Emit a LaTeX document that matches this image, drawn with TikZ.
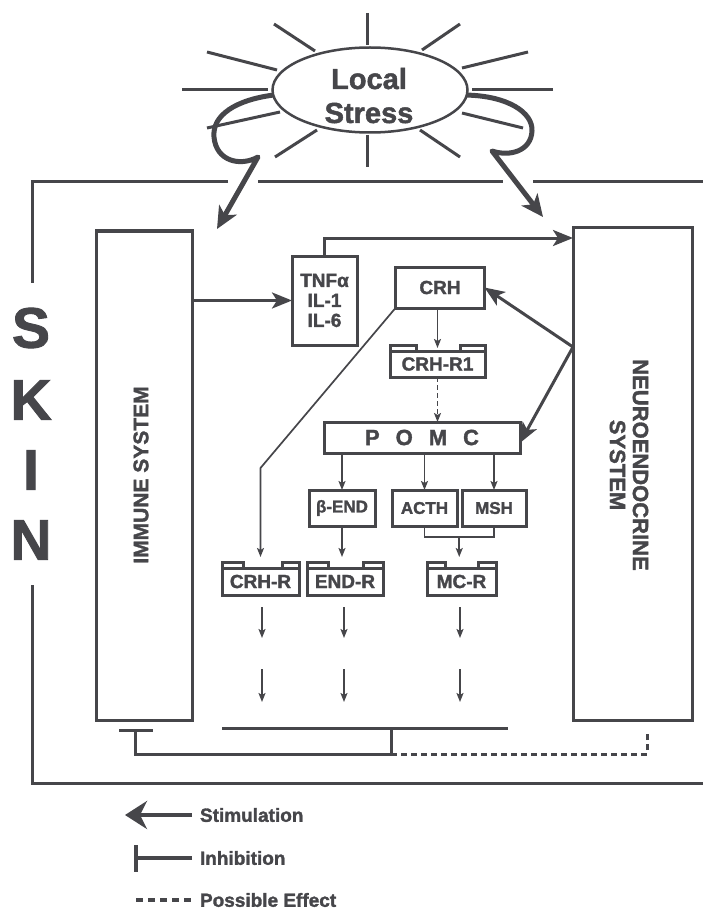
\documentclass[tikz,border=0pt]{standalone}
\usepackage{fontspec}
\setmainfont{Liberation Sans}[BoldFeatures={FakeBold=1.6}]
\usetikzlibrary{arrows.meta,shapes.geometric,calc}
\definecolor{ink}{RGB}{70,70,74}
\begin{document}
\begin{tikzpicture}[x=1pt,y=-1pt,line join=miter,
  every node/.style={text=ink,inner sep=0pt,outer sep=0pt},
  frame/.style={draw=ink,line width=3pt},
  ray/.style={draw=ink,line width=3pt},
  bigarrow/.style={draw=ink,line width=3pt,-{Stealth[length=20pt,width=16pt,inset=5pt]}},
  curlarrow/.style={draw=ink,line width=5pt,line join=round,-{Stealth[length=22pt,width=20pt,inset=6pt]}},
  thinarrow/.style={draw=ink,line width=1.7pt,-{Stealth[length=9pt,width=7pt,inset=2pt]}},
  thinline/.style={draw=ink,line width=1.7pt},
  box/.style={draw=ink,line width=3pt,rectangle,inner sep=0pt},
  lbl/.style={font=\bfseries\fontsize{#1}{#1}\selectfont},
]
\fill[white] (0,0) rectangle (703,909);
\useasboundingbox (0,0) rectangle (703,909);

% ---------- Local stress ----------
\node[ellipse,draw=ink,line width=2.5pt,minimum width=195pt,minimum height=85pt] (stress) at (370,90) {};
\node[lbl=29,anchor=base] (stressA) at (369,89) {Local};
\node[lbl=29,anchor=base] (stressB) at (369,123) {Stress};
\draw[ray] (367,13) -- (367,45);
\draw[ray] (274,24) -- (315,51);
\draw[ray] (460,24) -- (422,50);
\draw[ray] (207,52) -- (277,70);
\draw[ray] (528,52) -- (462,68);
\draw[ray] (182,90) -- (268,90);
\draw[ray] (553,90) -- (472,90);
\draw[ray] (207,128) -- (280,112);
\draw[ray] (523,128) -- (462,113);
\draw[ray] (275,157) -- (317,130);
\draw[ray] (460,157) -- (420,130);
\draw[ray] (367,135) -- (367,167);

% ---------- SKIN frame ----------
\draw[frame] (228,182) -- (32,182) -- (32,283);
\draw[frame] (258,182) -- (503,182);
\draw[frame] (533,182) -- (703,182);
\draw[frame] (32,585) -- (32,783) -- (703,783);
\node[lbl=57] (skinS) at (31,328) {S};
\node[lbl=57] (skinK) at (31,400) {K};
\node[lbl=57] (skinI) at (31,470) {I};
\node[lbl=57] (skinN) at (31,540) {N};

% ---------- curled arrows ----------
\coordinate (curlLend) at (217,229);
\coordinate (curlRend) at (543,217);
\draw[curlarrow] (stress.183) .. controls (236,100) and (212,115) .. (214,137)
  .. controls (216,161) and (240,167) .. (258,157) -- (curlLend);
\draw[curlarrow] (stress.-3) .. controls (507,96) and (533,112) .. (532,131)
  .. controls (531,151) and (510,157) .. (492,151) -- (curlRend);

% ---------- systems ----------
\node[box,minimum width=96pt,minimum height=489pt] (immune) at (144,475.5) {};
\node[lbl=21,rotate=90] (immunetext) at (141,475) {IMMUNE SYSTEM};
\node[box,minimum width=119pt,minimum height=492pt] (neuro) at (632.5,474) {};
\node[font=\bfseries\fontsize{22}{23}\selectfont,rotate=-90,align=center] (neurotext) at (629,465) {NEUROENDOCRINE\\SYSTEM};

% ---------- mediators ----------
\node[box,minimum width=65pt,minimum height=89pt,font=\bfseries\fontsize{19}{20}\selectfont,align=center] (tnf) at (324.5,300.5) {TNFα\\IL-1\\IL-6};
\node[box,minimum width=89pt,minimum height=41pt,lbl=19] (crh) at (440,287.5) {CRH};
\node[box,minimum width=95pt,minimum height=26pt,lbl=19] (crhr1) at (437.5,364) {CRH-R1};
\draw[frame] (crhr1.north west) rectangle ++(26,-6);
\draw[frame] (crhr1.north east) rectangle ++(-25,-6);
\node[box,minimum width=196pt,minimum height=31pt,lbl=22] (pomc) at (422,437.5) {P\hspace{16pt}O\hspace{16pt}M\hspace{16pt}C};
\node[box,minimum width=66pt,minimum height=36pt,lbl=17] (bend) at (342,508) {β-END};
\node[box,minimum width=65pt,minimum height=36pt,lbl=17] (acth) at (424.5,508) {ACTH};
\node[box,minimum width=64pt,minimum height=36pt,lbl=17] (msh) at (494,508) {MSH};

% receptors
\node[box,minimum width=77pt,minimum height=27pt,lbl=19] (crhr) at (260.5,581.5) {CRH-R};
\draw[frame] (crhr.north west) rectangle ++(21,-6);
\draw[frame] (crhr.north east) rectangle ++(-17,-6);
\node[box,minimum width=76pt,minimum height=27pt,lbl=19] (endr) at (345,581.5) {END-R};
\draw[frame] (endr.north west) rectangle ++(21,-6);
\draw[frame] (endr.north east) rectangle ++(-20,-6);
\node[box,minimum width=69pt,minimum height=27pt,lbl=19] (mcr) at (461.5,581.5) {MC-R};
\draw[frame] (mcr.north west) rectangle ++(18,-6);
\draw[frame] (mcr.north east) rectangle ++(-18,-6);

% ---------- connectors ----------
\draw[bigarrow] (immune.east |- tnf.west) -- (tnf.west);
\coordinate (tnfbend) at (324.5,238);
\draw[bigarrow] (tnf.north) -- (tnfbend) -- (tnfbend -| neuro.west);
\coordinate (nsrc) at (573,347);
\draw[bigarrow] (nsrc) -- (crh.east);
\draw[bigarrow] (nsrc) -- ($(pomc.east)!0.35!(pomc.south east)$);

\draw[thinarrow,shorten >=3pt] (crhr1.north |- crh.south) -- (crhr1.north);
\draw[thinarrow,dash pattern=on 5pt off 3pt] (crhr1.south) -- (crhr1.south |- pomc.north);
\draw[thinarrow] (bend.north |- pomc.south) -- (bend.north);
\draw[thinarrow] (acth.north |- pomc.south) -- (acth.north);
\draw[thinarrow] (msh.north |- pomc.south) -- (msh.north);
\draw[thinline] (acth.south) -- ++(0,11) -| (msh.south);
\coordinate (mcin) at ($(acth.south)!0.5!(msh.south)+(0,11)$);
\draw[thinarrow,shorten >=11pt] (mcin) -- (mcin |- mcr.north);
\draw[thinarrow,shorten >=11pt] (bend.south) -- (bend.south |- endr.north);
\coordinate (crhbend) at (260.5,468);
\draw[thinarrow,shorten >=11pt] (crh.south west) -- (crhbend) -- (crhr.north);

\foreach \xx in {262,344,460}{
  \draw[thinarrow] (\xx,607) -- (\xx,638);
  \draw[thinarrow] (\xx,669) -- (\xx,702);
}

% ---------- feedback lines ----------
\coordinate (barL) at (222,728);
\coordinate (barR) at (508,728);
\coordinate (barM) at (391,728);
\coordinate (botM) at (391,754);
\coordinate (botL) at (135,754);
\coordinate (teeC) at (135,730);
\coordinate (teeA) at (119,730);
\coordinate (teeB) at (153,730);
\coordinate (dashCorner) at (647,754);
\coordinate (dashEnd) at (647,733);
\draw[frame] (barL) -- (barR);
\draw[frame] (barM) -- (botM) -- (botL) -- (teeC);
\draw[frame] (teeA) -- (teeB);
\draw[frame,dash pattern=on 6pt off 4pt] (botM) -- (dashCorner) -- (dashEnd);

% ---------- legend ----------
\coordinate (stimA) at (192,815);
\coordinate (stimB) at (125,815);
\draw[draw=ink,line width=4pt,-{Stealth[length=22pt,width=28pt,inset=7pt]}] (stimA) -- (stimB);
\node[lbl=19,anchor=west] (stimtext) at (200,815) {Stimulation};
\coordinate (inhA) at (192,858);
\coordinate (inhB) at (136,858);
\draw[draw=ink,line width=4pt] (inhA) -- (inhB);
\draw[draw=ink,line width=4pt] (136,845) -- (136,872);
\node[lbl=19,anchor=west] (inhtext) at (200,858) {Inhibition};
\draw[draw=ink,line width=3.5pt,dash pattern=on 7pt off 5pt] (136,900) -- (192,900);
\node[lbl=19,anchor=west] (postext) at (200,900) {Possible Effect};
\end{tikzpicture}
\end{document}
